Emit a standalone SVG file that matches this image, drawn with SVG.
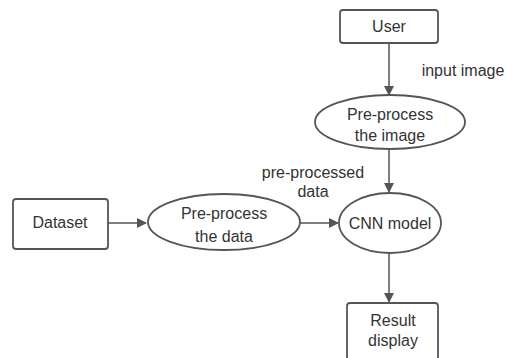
<svg xmlns="http://www.w3.org/2000/svg" width="506" height="358" viewBox="0 0 506 358">
<defs>
<marker id="ah" markerWidth="10" markerHeight="10" refX="9" refY="5" orient="auto" markerUnits="userSpaceOnUse">
<path d="M0,0 L10,5 L0,10 Z" fill="#555"/>
</marker>
<style>
.box{fill:#fff;stroke:#555;stroke-width:1.8}
.t{font-family:"Liberation Sans",Arial,sans-serif;font-size:16px;fill:#333;text-anchor:middle}
.e{stroke:#555;stroke-width:1.5;fill:none}
</style>
</defs>
<rect width="506" height="358" fill="#fff"/>
<g id="connectors">
<line class="e" x1="389" y1="44" x2="389" y2="95" marker-end="url(#ah)"/>
<line class="e" x1="389" y1="149" x2="389" y2="192" marker-end="url(#ah)"/>
<line class="e" x1="108" y1="223" x2="146" y2="223" marker-end="url(#ah)"/>
<line class="e" x1="300" y1="223" x2="338" y2="223" marker-end="url(#ah)"/>
<line class="e" x1="389" y1="253" x2="389" y2="302" marker-end="url(#ah)"/>
<text class="t" x="463" y="76">input image</text>
<text class="t" x="313" y="178">pre-processed</text>
<text class="t" x="313" y="197">data</text>
</g>
<g id="user">
<rect class="box" x="340" y="10" width="98" height="33" rx="3"/>
<text class="t" x="389" y="32">User</text>
</g>
<g id="preimg">
<ellipse class="box" cx="390" cy="122" rx="75" ry="27"/>
<text class="t" x="390" y="120">Pre-process</text>
<text class="t" x="390" y="141">the image</text>
</g>
<g id="dataset">
<rect class="box" x="13" y="199" width="95" height="50" rx="3"/>
<text class="t" x="60" y="228">Dataset</text>
</g>
<g id="predata">
<ellipse class="box" cx="224" cy="222" rx="76" ry="28"/>
<text class="t" x="224" y="219">Pre-process</text>
<text class="t" x="224" y="242">the data</text>
</g>
<g id="cnn">
<ellipse class="box" cx="390" cy="223" rx="51" ry="30"/>
<text class="t" x="390" y="229">CNN model</text>
</g>
<g id="result">
<rect class="box" x="347" y="303" width="91" height="70" rx="3"/>
<text class="t" x="393" y="326">Result</text>
<text class="t" x="393" y="346">display</text>
</g>
</svg>
